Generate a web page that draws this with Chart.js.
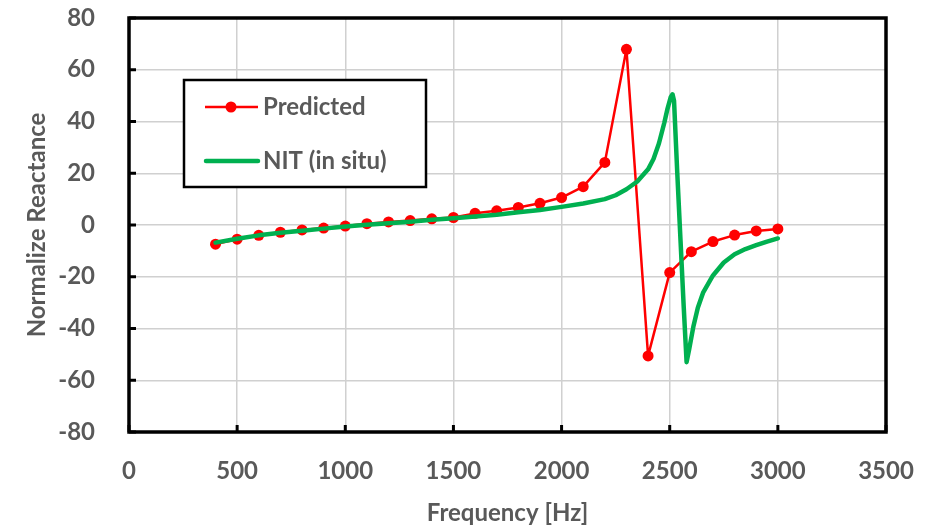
<!DOCTYPE html>
<html>
<head>
<meta charset="utf-8">
<script src="https://cdn.jsdelivr.net/npm/chart.js@4/dist/chart.umd.min.js"></script>
<style>
html,body{margin:0;padding:0;background:#fff;}
#wrap{width:937px;height:528px;position:relative;}
</style>
</head>
<body>
<div id="wrap"><canvas id="c" width="937" height="528"></canvas></div>
<script>
const xTicks = [0,500,1000,1500,2000,2500,3000,3500];
const yTicks = [-80,-60,-40,-20,0,20,40,60,80];

const predFreq = [400,500,600,700,800,900,1000,1100,1200,1300,1400,1500,1600,1700,1800,1900,2000,2100,2200,2300,2400,2500,2600,2700,2800,2900,3000];
const predVals = [-7.4,-5.5,-4.0,-2.8,-1.9,-1.2,-0.4,0.5,1.2,1.7,2.4,2.9,4.5,5.5,6.8,8.4,10.6,14.8,24.2,67.9,-50.6,-18.4,-10.3,-6.4,-3.9,-2.3,-1.5];

const nitFreq = [400,500,600,700,800,900,1000,1100,1200,1300,1400,1500,1600,1700,1800,1900,2000,2100,2200,2250,2300,2350,2400,2425,2450,2475,2490,2505,2513,2520,2535,2550,2565,2578,2590,2610,2630,2655,2700,2750,2800,2850,2900,2950,3000];
const nitVals = [-6.8,-5.3,-4.0,-3.0,-2.2,-1.4,-0.6,0.1,0.7,1.3,2.0,2.6,3.3,4.0,4.9,5.8,7.0,8.3,10.0,11.5,13.8,16.8,21.5,25.5,31.5,39.5,45.0,49.5,50.5,48.0,20.0,-6.0,-32.0,-53.0,-48.0,-39.0,-32.0,-26.0,-19.5,-14.5,-11.3,-9.3,-7.8,-6.4,-5.2];

const seriesNames = ['Predicted','NIT (in situ)'];
const xTitle = 'Frequency [Hz]';
const yTitle = 'Normalize Reactance';

const RED = '#ff0000', GREEN = '#00b050', TXT = '#595959';
const FONT = 'Lato, "Open Sans", sans-serif';

const framePlugin = {
  id: 'frame',
  afterDatasetsDraw(chart) {
    const {ctx, chartArea: a, scales} = chart;
    ctx.save();
    ctx.strokeStyle = '#000';
    ctx.lineWidth = 3.5;
    ctx.strokeRect(a.left, a.top, a.right - a.left, a.bottom - a.top);
    ctx.lineWidth = 3;
    yTicks.forEach(v => {
      const y = scales.y.getPixelForValue(v);
      ctx.beginPath(); ctx.moveTo(a.left, y); ctx.lineTo(a.left + 7, y); ctx.stroke();
    });
    xTicks.forEach(v => {
      const x = scales.x.getPixelForValue(v);
      ctx.beginPath(); ctx.moveTo(x, a.bottom); ctx.lineTo(x, a.bottom - 7); ctx.stroke();
    });
    // legend
    const lx = 184, ly = 80, lw = 242, lh = 107;
    ctx.fillStyle = '#fff';
    ctx.fillRect(lx, ly, lw, lh);
    ctx.lineWidth = 2.5;
    ctx.strokeStyle = '#000';
    ctx.strokeRect(lx, ly, lw, lh);
    ctx.strokeStyle = RED; ctx.lineWidth = 2.5;
    ctx.beginPath(); ctx.moveTo(205, 107); ctx.lineTo(258, 107); ctx.stroke();
    ctx.fillStyle = RED;
    ctx.beginPath(); ctx.arc(231, 107, 5.5, 0, Math.PI*2); ctx.fill();
    ctx.strokeStyle = GREEN; ctx.lineWidth = 4.5; ctx.lineCap = 'round';
    ctx.beginPath(); ctx.moveTo(206, 161); ctx.lineTo(258, 161); ctx.stroke();
    ctx.fillStyle = TXT;
    ctx.font = 'bold 24px ' + FONT;
    ctx.textBaseline = 'middle';
    ctx.fillText(seriesNames[0], 263, 107);
    ctx.fillText(seriesNames[1], 263, 161);
    ctx.restore();
  }
};

new Chart(document.getElementById('c'), {
  type: 'scatter',
  data: {
    datasets: [
      {
        label: seriesNames[1],
        data: nitFreq.map((f,i)=>({x:f,y:nitVals[i]})),
        showLine: true,
        borderColor: GREEN,
        borderWidth: 4.5,
        borderJoinStyle: 'round',
        borderCapStyle: 'round',
        pointRadius: 0,
        tension: 0,
        order: 1
      },
      {
        label: seriesNames[0],
        data: predFreq.map((f,i)=>({x:f,y:predVals[i]})),
        showLine: true,
        borderColor: RED,
        backgroundColor: RED,
        borderWidth: 2.5,
        borderJoinStyle: 'round',
        pointRadius: 5.5,
        pointBorderWidth: 0,
        pointBackgroundColor: RED,
        tension: 0,
        order: 2
      }
    ]
  },
  options: {
    responsive: false,
    animation: false,
    layout: {padding: {top: 18, right: 51, left: 23, bottom: 0}},
    plugins: {legend: {display: false}, tooltip: {enabled: false}},
    scales: {
      x: {
        type: 'linear', min: 0, max: 3500,
        afterBuildTicks(s){ s.ticks = xTicks.map(v=>({value:v})); },
        afterFit(s){ s.height = 96; s.paddingLeft = 0; s.paddingRight = 0; },
        grid: {color: '#d0d0d0', lineWidth: 1.5, drawTicks: false},
        border: {display: false},
        ticks: {color: TXT, font: {family: FONT, size: 24, weight: 'bold'}, padding: 25, maxRotation: 0, callback: v => String(v)},
        title: {display: true, text: xTitle, color: TXT, font: {family: FONT, size: 24, weight: 'bold'}, padding: {top: 8, bottom: 0}}
      },
      y: {
        type: 'linear', min: -80, max: 80,
        afterBuildTicks(s){ s.ticks = yTicks.map(v=>({value:v})); },
        afterFit(s){ s.width = 106; s.paddingTop = 0; s.paddingBottom = 0; },
        grid: {color: '#d0d0d0', lineWidth: 1.5, drawTicks: false},
        border: {display: false},
        ticks: {color: TXT, font: {family: FONT, size: 24, weight: 'bold'}, padding: 34, callback: v => String(v)},
        title: {display: true, text: yTitle, color: TXT, font: {family: FONT, size: 24, weight: 'bold'}, padding: {top: 0, bottom: 0}}
      }
    }
  },
  plugins: [framePlugin]
});
</script>
</body>
</html>
